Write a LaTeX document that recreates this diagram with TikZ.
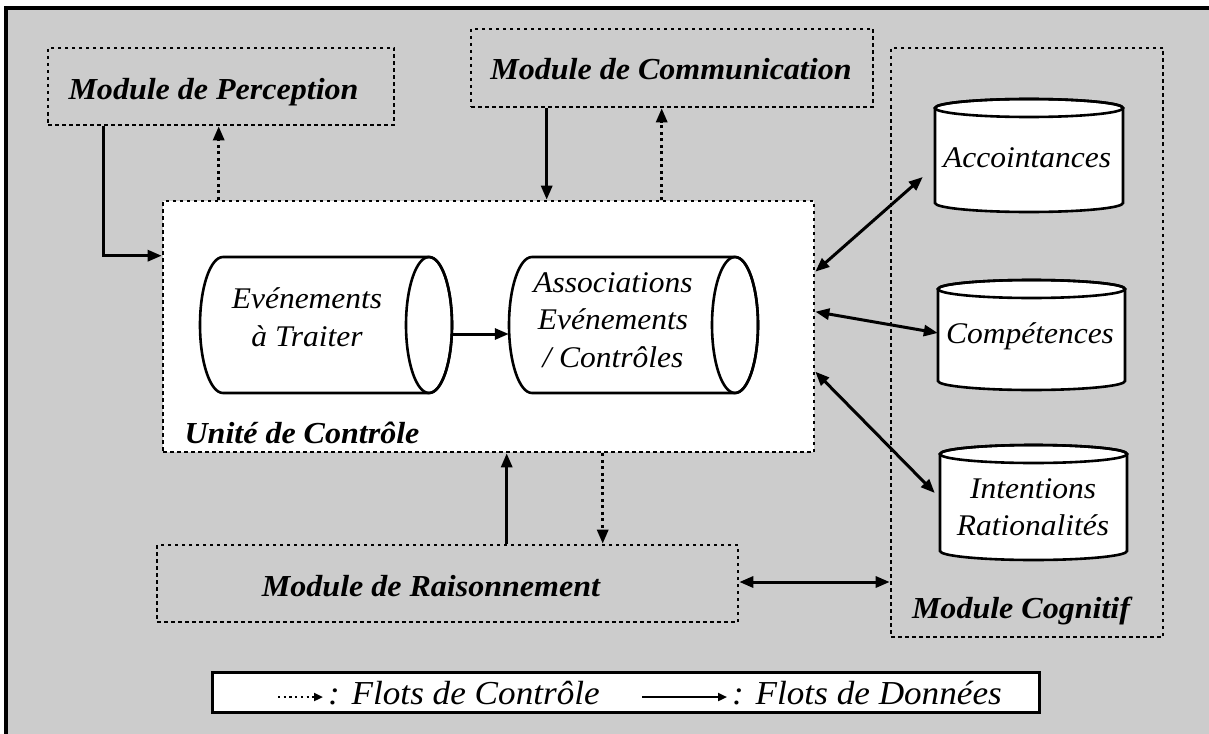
\documentclass[tikz,border=0pt]{standalone}
\usepackage{fontspec}
\setmainfont[FakeStretch=1.05]{Liberation Serif}
\usetikzlibrary{arrows.meta,calc}
\tikzset{
  modbox/.style={draw, line width=2.6pt, dash pattern=on 3.5pt off 3.5pt, inner sep=0pt, rectangle},
  modlabel/.style={font=\fontsize{30.5}{35}\selectfont\bfseries\itshape, inner sep=0pt, anchor=base},
  cyltext/.style={font=\fontsize{30}{37.5}\selectfont\itshape, align=center, inner sep=0pt},
  legtext/.style={font=\fontsize{33.5}{38}\selectfont\itshape, inner sep=0pt, anchor=base west},
  cylline/.style={draw, line width=2.6pt, fill=white},
  tip/.tip={Triangle[length=14pt,width=11pt]},
  data/.style={line width=3pt, -tip},
  bidata/.style={line width=3pt, tip-tip},
  ctrl/.style={line width=3pt, dash pattern=on 3pt off 3.5pt, -tip},
  hit/.style={inner sep=0pt, rectangle}
}
\begin{document}
\begin{tikzpicture}[x=1pt,y=-1pt]
\useasboundingbox (0,0) rectangle (1209,733);
% background and frame
\fill[black!20] (6,8) rectangle (1212,736);
\draw[line width=3.5pt] (6,736) -- (6,8) -- (1212,8);

% module boxes
\node[modbox, minimum width=346pt, minimum height=77pt] (perc) at (221,86.5) {};
\node[modbox, minimum width=402pt, minimum height=78pt] (comm) at (672,68) {};
\node[modbox, minimum width=272pt, minimum height=589pt] (cog) at (1027,342.5) {};
\node[modbox, fill=white, minimum width=651pt, minimum height=251pt] (unit) at (488.5,326.5) {};
\node[modbox, minimum width=581pt, minimum height=77pt] (rais) at (447.5,583.5) {};

% horizontal cylinders
\path[cylline] (429,257) -- (223,257) arc[start angle=90,end angle=270,x radius=23pt,y radius=68pt] -- (429,393) arc[start angle=270,end angle=450,x radius=23pt,y radius=68pt] -- cycle;
\draw[line width=2.6pt] (429,325) ellipse[x radius=23pt,y radius=68pt];
\node[hit, minimum width=252pt, minimum height=136pt] (ev) at (326,325) {};
\path[cylline] (735,257) -- (532,257) arc[start angle=90,end angle=270,x radius=23pt,y radius=68pt] -- (735,393) arc[start angle=270,end angle=450,x radius=23pt,y radius=68pt] -- cycle;
\draw[line width=2.6pt] (735,325) ellipse[x radius=23pt,y radius=68pt];
\node[hit, minimum width=249pt, minimum height=136pt] (as) at (633.5,325) {};

% vertical cylinders
\path[cylline] (935,108) -- (935,203) arc[start angle=180,end angle=360,x radius=94pt,y radius=9pt] -- (1123,108) arc[start angle=0,end angle=180,x radius=94pt,y radius=9pt] -- cycle;
\draw[line width=2.6pt] (1029,108) ellipse[x radius=94pt,y radius=9pt];
\node[hit, minimum width=188pt, minimum height=113pt] (acc) at (1029,155.5) {};
\path[cylline] (938,289) -- (938,381) arc[start angle=180,end angle=360,x radius=93.5pt,y radius=9pt] -- (1125,289) arc[start angle=0,end angle=180,x radius=93.5pt,y radius=9pt] -- cycle;
\draw[line width=2.6pt] (1031.5,289) ellipse[x radius=93.5pt,y radius=9pt];
\node[hit, minimum width=187pt, minimum height=110pt] (comp) at (1031.5,335) {};
\path[cylline] (940,454) -- (940,551) arc[start angle=180,end angle=360,x radius=93.5pt,y radius=9pt] -- (1127,454) arc[start angle=0,end angle=180,x radius=93.5pt,y radius=9pt] -- cycle;
\draw[line width=2.6pt] (1033.5,454) ellipse[x radius=93.5pt,y radius=9pt];
\node[hit, minimum width=187pt, minimum height=115pt] (int) at (1033.5,502.5) {};

% cylinder texts
\node[cyltext] (evt) at (307,317) {Evénements\\à Traiter};
\node[cyltext] (ast) at (613,320) {Associations\\Evénements\\/ Contrôles};
\node[cyltext, anchor=base] (acct) at (1027,167) {Accointances};
\node[cyltext, anchor=base] (compt) at (1030,343) {Compétences};
\node[cyltext] (intt) at (1033,507) {Intentions\\Rationalités};

% module labels
\node[modlabel] (percl) at (213.5,100) {Module de Perception};
\node[modlabel] (comml) at (671,80) {Module de Communication};
\node[modlabel] (raisl) at (431,596) {Module de Raisonnement};
\node[modlabel] (unitl) at (302,443) {Unité de Contrôle};
\node[modlabel] (cogl) at (1021,618) {Module Cognitif};

% connectors
\draw[data] ($(perc.south west)+(57,0)$) |- ($(unit.north west)+(0,56)$);
\draw[ctrl] ($(unit.north west)+(57,0)$) coordinate (u1) -- (u1 |- perc.south);
\draw[data] ($(comm.south west)+(77,0)$) coordinate (c1) -- (c1 |- unit.north);
\draw[ctrl] ($(unit.north west)+(500,0)$) coordinate (u2) -- (u2 |- comm.south);
\draw[data] ($(ev.east)+(0,9)$) coordinate (e1) -- (e1 -| as.west);
\draw[bidata] ($(unit.north east)+(0,72)$) -- ($(acc.west)+(-12,21.5)$);
\draw[bidata] ($(unit.north east)+(0,112)$) -- ($(comp.west)+(0,-2)$);
\draw[bidata] ($(unit.north east)+(0,172)$) -- ($(int.west)+(-5,-9.5)$);
\draw[data] ($(rais.north west)+(351,0)$) coordinate (r1) -- (r1 |- unit.south);
\draw[ctrl] ($(unit.south west)+(441,0)$) coordinate (u3) -- (u3 |- rais.north);
\draw[bidata] ($(rais.east)+(0,-1.5)$) coordinate (r2) -- (r2 -| cog.west);

% legend
\node[draw, line width=3pt, fill=white, inner sep=0pt, minimum width=827pt, minimum height=40pt] (leg) at (625.5,692) {};
\coordinate (l1a) at (278,697);
\coordinate (l1b) at (323,697);
\draw[line width=2.2pt, dash pattern=on 2.2pt off 3.5pt, -{Triangle[length=9pt,width=8pt]}] (l1a) -- (l1b);
\node[legtext] (leg1) at (328,704) {: Flots de Contrôle};
\coordinate (l2a) at (642,697);
\coordinate (l2b) at (727,697);
\draw[line width=2.2pt, -{Triangle[length=9pt,width=8pt]}] (l2a) -- (l2b);
\node[legtext] (leg2) at (732,704) {: Flots de Données};
\end{tikzpicture}
\end{document}
